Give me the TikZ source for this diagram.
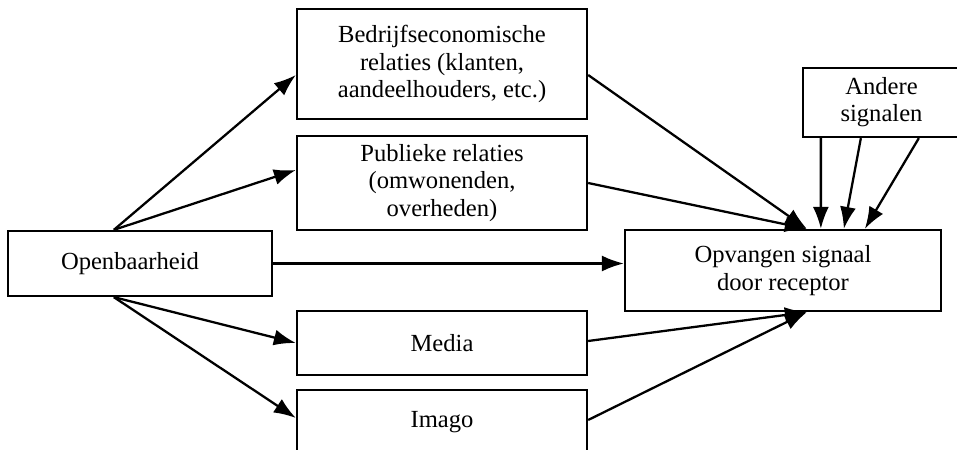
\documentclass[tikz,border=0pt]{standalone}
\usepackage{fontspec}
\setmainfont{Liberation Serif}
\usepackage{tikz}
\usetikzlibrary{arrows.meta}
\tikzset{box/.style={draw, line width=1.3pt, align=center, inner sep=0pt,
    font=\fontsize{14}{15.5}\selectfont},
  link/.style={line width=1.3pt, -{Latex[length=4.4mm,width=3.2mm]}}}

\begin{document}
\begin{tikzpicture}[x=0.2mm,y=-0.2mm]
\useasboundingbox (0,0) rectangle (957,450);
\clip (0,0) rectangle (957,450);
\node[box, minimum width=52.8mm, minimum height=13mm](open) at (140,263.5) {\hspace*{-4mm}Openbaarheid};
\node[box, minimum width=58mm, minimum height=22mm](bedr) at (442,64) {Bedrijfseconomische\\relaties (klanten,\\aandeelhouders, etc.)};
\node[box, minimum width=58mm, minimum height=18.8mm](publ) at (442,183) {Publieke relaties\\(omwonenden,\\overheden)};
\node[box, minimum width=58mm, minimum height=12.8mm](media) at (442,343) {Media};
\node[box, minimum width=58mm, minimum height=12.8mm](imago) at (442,422) {Imago};
\node[box, minimum width=63.2mm, minimum height=16.2mm](opv) at (783,270.5) {Opvangen signaal\\door receptor};
\node[box, minimum width=31.4mm, minimum height=13.8mm](andere) at (881.5,102.5) {Andere\\signalen};
%
\draw[link]([xshift=21.4mm]open.north west) -- ([yshift=-2.2mm]bedr.west);
\draw[link]([xshift=21.4mm]open.north west) -- ([yshift=2.6mm]publ.west);
\draw[link](open.east) -- (open.east -| opv.west);
\draw[link]([xshift=21.4mm]open.south west) -- (media.west);
\draw[link]([xshift=21.4mm]open.south west) -- ([yshift=0.8mm]imago.west);
%
\draw[link]([yshift=-2.2mm]bedr.east) -- ([xshift=36.6mm]opv.north west);
\draw[link](publ.east) -- ([xshift=36.6mm]opv.north west);
\draw[link]([yshift=0.4mm]media.east) -- ([xshift=36.6mm]opv.south west);
\draw[link]([yshift=0.4mm]imago.east) -- ([xshift=36.6mm]opv.south west);
%
\draw[link]([xshift=3.8mm]andere.south west) -- ([xshift=39.4mm]opv.north west);
\draw[link]([xshift=11.8mm]andere.south west) -- ([xshift=44mm]opv.north west);
\draw[link]([xshift=23.4mm]andere.south west) -- ([xshift=48.2mm]opv.north west);
\end{tikzpicture}
\end{document}
